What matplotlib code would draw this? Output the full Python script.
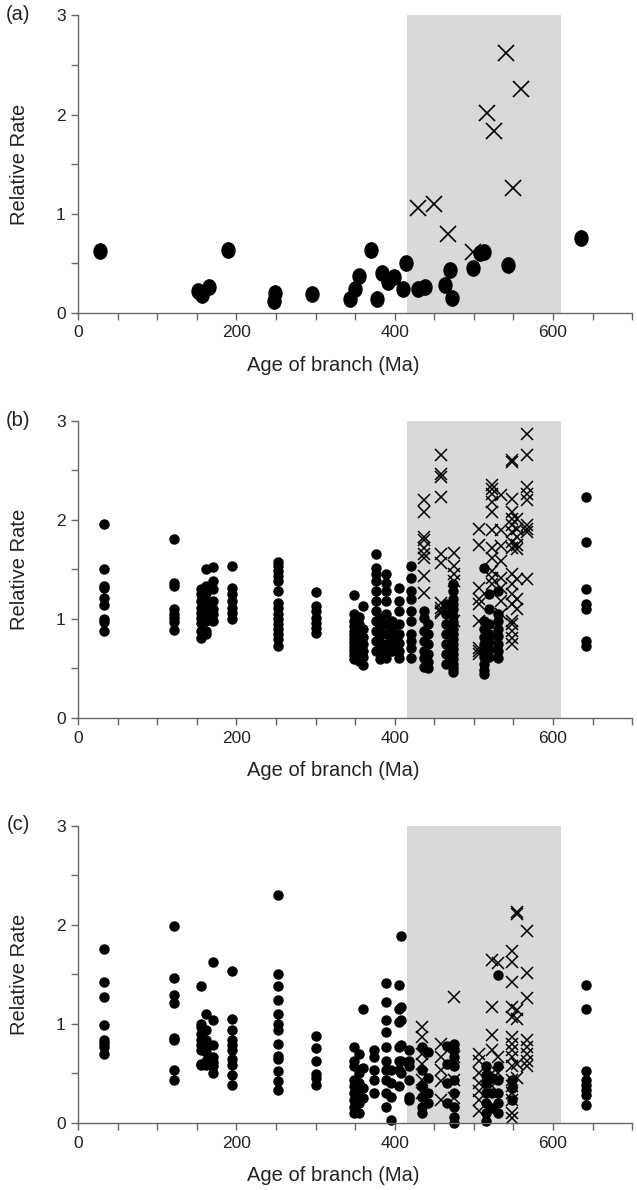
import matplotlib
matplotlib.use("Agg")
import matplotlib.pyplot as plt
from matplotlib.path import Path
from matplotlib.transforms import Affine2D
from matplotlib.ticker import MultipleLocator, FuncFormatter

plt.rcParams["font.family"] = ["Liberation Sans", "DejaVu Sans"]

# shaded interval (Ma)
SHADE = (416, 610)

# panel (a): one value per branch
a_dot_age = [28, 151, 157, 165, 190, 248, 249, 295, 343, 350, 355, 370, 378, 384,
             391, 399, 411, 414, 429, 438, 463, 470, 472, 499, 508, 513, 543, 635]
a_dot_rate = [0.62, 0.22, 0.18, 0.26, 0.64, 0.12, 0.20, 0.19, 0.14, 0.24, 0.37, 0.64, 0.14, 0.40,
              0.31, 0.36, 0.24, 0.50, 0.24, 0.26, 0.28, 0.43, 0.15, 0.45, 0.60, 0.61, 0.48, 0.76]
a_x_age = [429, 450, 467, 499, 516, 525, 540, 549, 560]
a_x_rate = [1.06, 1.10, 0.80, 0.61, 2.02, 1.83, 2.62, 1.26, 2.26]

# panel (b): (age, rates) columns
b_dots = [
    (33, [1.96, 1.50, 1.33, 1.31, 1.21, 1.14, 1.00, 0.97, 0.88]),
    (121, [1.81, 1.36, 1.33, 1.10, 1.05, 1.01, 0.97, 0.89]),
    (155, [1.30, 1.25, 1.18, 1.11, 1.06, 1.01, 0.96, 0.88, 0.81]),
    (162, [1.50, 1.33, 1.26, 1.18, 1.10, 1.03, 0.98, 0.88, 0.85]),
    (171, [1.52, 1.38, 1.30, 1.18, 1.10, 1.05, 0.98]),
    (195, [1.53, 1.31, 1.25, 1.18, 1.11, 1.06, 1.00]),
    (252, [1.57, 1.53, 1.48, 1.43, 1.38, 1.28, 1.16, 1.11, 1.05, 1.00, 0.95, 0.90, 0.85, 0.80, 0.73]),
    (300, [1.27, 1.13, 1.08, 1.01, 0.96, 0.91, 0.86]),
    (348, [1.24, 1.05, 0.98, 0.93, 0.88, 0.84, 0.80, 0.76, 0.72, 0.68, 0.64, 0.60]),
    (355, [1.02, 0.95, 0.90, 0.85, 0.80, 0.75, 0.70, 0.65, 0.58]),
    (360, [1.13, 0.90, 0.82, 0.75, 0.68, 0.62, 0.53]),
    (376, [1.65, 1.51, 1.45, 1.38, 1.28, 1.18, 1.08, 0.98, 0.88, 0.78, 0.68]),
    (382, [1.01, 0.92, 0.84, 0.76, 0.68, 0.60]),
    (389, [1.45, 1.36, 1.28, 1.18, 1.05, 0.95, 0.85, 0.75, 0.68, 0.61]),
    (397, [0.98, 0.90, 0.82, 0.75, 0.68]),
    (405, [1.31, 1.18, 1.08, 0.95, 0.85, 0.76, 0.68, 0.61]),
    (420, [1.53, 1.41, 1.28, 1.20, 1.08, 0.98, 0.85, 0.78, 0.71, 0.61]),
    (437, [1.08, 1.01, 0.88, 0.78, 0.68, 0.61, 0.51]),
    (442, [0.95, 0.85, 0.75, 0.65, 0.57, 0.50]),
    (465, [1.15, 1.05, 0.95, 0.85, 0.75, 0.65, 0.55]),
    (474, [1.35, 1.28, 1.20, 1.15, 1.10, 1.03, 0.97, 0.90, 0.85, 0.80, 0.75, 0.70, 0.65, 0.60, 0.55, 0.50, 0.46]),
    (513, [1.51, 0.98, 0.90, 0.82, 0.75, 0.68, 0.62, 0.55, 0.48, 0.44]),
    (519, [1.25, 1.10, 0.95, 0.85, 0.78, 0.70, 0.62]),
    (531, [1.28, 1.05, 0.98, 0.90, 0.83, 0.75, 0.68, 0.61]),
    (641, [2.23, 1.78, 1.30, 1.15, 1.10, 0.78, 0.73]),
]
b_crosses = [
    (437, [2.20, 2.08, 1.83, 1.80, 1.71, 1.65, 1.61, 1.43, 1.26]),
    (458, [2.65, 2.46, 2.43, 2.23, 1.65, 1.56, 1.16, 1.11, 1.06, 1.08]),
    (475, [1.66, 1.53, 1.45, 1.38, 0.98]),
    (506, [1.91, 1.75, 1.31, 1.20, 1.15, 0.98, 0.71, 0.68, 0.65]),
    (523, [2.35, 2.31, 2.26, 2.18, 2.08, 1.90, 1.71, 1.61, 1.48, 1.41, 1.35]),
    (534, [2.25, 1.90, 1.73, 1.58, 1.41, 1.31, 1.18, 1.05]),
    (548, [2.60, 2.58, 2.21, 2.08, 2.01, 1.95, 1.88, 1.78, 1.71, 1.45, 1.35, 1.25, 1.15,
           0.98, 0.95, 0.88, 0.81, 0.75]),
    (554, [2.01, 1.91, 1.83, 1.75, 1.70, 1.40, 1.20, 1.10]),
    (567, [2.86, 2.65, 2.33, 2.26, 2.20, 1.95, 1.91, 1.88, 1.40]),
]

# panel (c)
c_dots = [
    (33, [1.75, 1.42, 1.27, 0.99, 0.84, 0.81, 0.77, 0.70]),
    (121, [1.99, 1.46, 1.29, 1.21, 0.86, 0.84, 0.53, 0.43]),
    (155, [1.38, 1.00, 0.97, 0.90, 0.84, 0.79, 0.74, 0.60, 0.58]),
    (162, [1.10, 0.94, 0.84, 0.77, 0.72, 0.63, 0.58]),
    (171, [1.62, 1.04, 0.79, 0.67, 0.62, 0.57, 0.50]),
    (195, [1.53, 1.05, 0.94, 0.84, 0.79, 0.74, 0.65, 0.58, 0.48, 0.38]),
    (253, [2.30, 1.50, 1.38, 1.24, 1.10, 1.00, 0.94, 0.80, 0.68, 0.65, 0.52, 0.42, 0.33]),
    (300, [0.88, 0.76, 0.63, 0.49, 0.45, 0.38]),
    (349, [0.77, 0.63, 0.57, 0.43, 0.37, 0.30, 0.23, 0.16, 0.10]),
    (355, [0.70, 0.50, 0.40, 0.30, 0.20, 0.10]),
    (360, [1.15, 0.55, 0.35, 0.25]),
    (374, [0.74, 0.67, 0.53, 0.43, 0.30]),
    (389, [1.41, 1.22, 1.04, 0.92, 0.77, 0.63, 0.53, 0.43, 0.30, 0.16]),
    (395, [0.53, 0.40, 0.26, 0.03]),
    (405, [1.39, 1.15, 1.02, 0.77, 0.63, 0.53, 0.37]),
    (408, [1.89, 1.17, 1.04, 0.79, 0.63, 0.50]),
    (418, [0.74, 0.63, 0.57, 0.43, 0.26, 0.23]),
    (435, [0.77, 0.53, 0.37, 0.26, 0.16, 0.10]),
    (442, [0.72, 0.45, 0.30, 0.20]),
    (466, [0.78, 0.60, 0.40, 0.20]),
    (475, [0.80, 0.75, 0.67, 0.57, 0.43, 0.30, 0.16, 0.06, 0.00]),
    (515, [0.57, 0.48, 0.40, 0.30, 0.20, 0.10, 0.02]),
    (523, [0.45, 0.30, 0.15]),
    (531, [1.49, 0.57, 0.43, 0.30, 0.20, 0.10]),
    (548, [0.43, 0.35, 0.23]),
    (641, [1.39, 1.15, 0.52, 0.43, 0.38, 0.33, 0.28, 0.18]),
]
c_crosses = [
    (435, [0.97, 0.87, 0.70, 0.60, 0.43, 0.30]),
    (458, [0.80, 0.67, 0.53, 0.42, 0.23]),
    (475, [1.27, 0.67, 0.43, 0.25]),
    (506, [0.70, 0.63, 0.50, 0.40, 0.32, 0.23, 0.12]),
    (523, [1.64, 1.17, 0.89, 0.74, 0.50, 0.37]),
    (531, [1.61, 0.67, 0.50]),
    (548, [1.73, 1.62, 1.42, 1.17, 1.07, 0.87, 0.80, 0.74, 0.67, 0.57, 0.43, 0.37, 0.30,
           0.23, 0.10, 0.05]),
    (554, [2.13, 2.11, 1.14, 1.05, 0.60, 0.45]),
    (567, [1.94, 1.51, 1.26, 0.84, 0.77, 0.70, 0.63, 0.57]),
]

# slightly tall oval used for the large markers in panel (a)
OVAL = Path.unit_circle().transformed(Affine2D().scale(0.85, 1.0))


def flatten(cols):
    xs, ys = [], []
    for age, rates in cols:
        xs += [age] * len(rates)
        ys += rates
    return xs, ys


def style_axes(ax):
    ax.axvspan(*SHADE, color="#d9d9d9", lw=0, zorder=0)
    ax.set_xlim(0, 700)
    ax.set_ylim(0, 3)
    for side in ("top", "right"):
        ax.spines[side].set_visible(False)
    for side in ("left", "bottom"):
        ax.spines[side].set_color("#666666")
        ax.spines[side].set_linewidth(1.0)
    ax.xaxis.set_major_locator(MultipleLocator(50))
    ax.yaxis.set_major_locator(MultipleLocator(0.5))
    ax.xaxis.set_major_formatter(FuncFormatter(lambda v, p: f"{int(v)}" if v % 200 == 0 else ""))
    ax.yaxis.set_major_formatter(FuncFormatter(lambda v, p: f"{int(v)}" if v % 1 == 0 else ""))
    ax.tick_params(direction="out", length=5, width=1, color="#666666",
                   labelsize=12.5, labelcolor="#222222", pad=4)
    ax.set_xlabel("Age of branch (Ma)", fontsize=14.5, color="#222222")
    ax.set_ylabel("Relative Rate", fontsize=14.5, color="#222222")
    ax.xaxis.set_label_coords(0.46, -0.145)
    ax.yaxis.set_label_coords(-0.088, 0.5)


fig = plt.figure(figsize=(6.37, 11.9), dpi=100)
left, width = 0.1225, 0.870
bottoms = [0.737, 0.3966, 0.0563]
axes = [fig.add_axes([left, b, width, 0.250]) for b in bottoms]

ax = axes[0]
style_axes(ax)
ax.plot(a_dot_age, a_dot_rate, ls="none", marker=OVAL, color="black", ms=11, clip_on=False)
ax.plot(a_x_age, a_x_rate, "x", color="black", ms=12, mew=1.2, clip_on=False)

for ax, dots, crosses in ((axes[1], b_dots, b_crosses), (axes[2], c_dots, c_crosses)):
    style_axes(ax)
    dx, dy = flatten(dots)
    cx, cy = flatten(crosses)
    ax.plot(dx, dy, "o", color="black", ms=6.5, clip_on=False)
    ax.plot(cx, cy, "x", color="black", ms=9, mew=1.1, clip_on=False)

for label, ypix in (("(a)", 15), ("(b)", 420), ("(c)", 825)):
    fig.text(18 / 637, 1 - ypix / 1190, label, fontsize=14.5, color="#222222",
             ha="center", va="center")

fig.savefig("out.png", dpi=100)
